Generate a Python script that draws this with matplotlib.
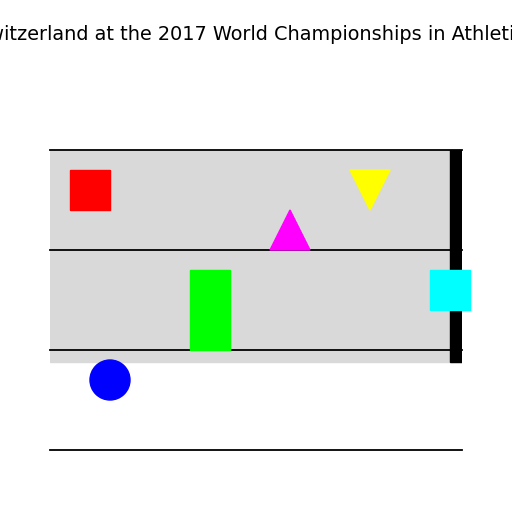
import matplotlib
matplotlib.use('Agg')
import matplotlib.pyplot as plt
from matplotlib.patches import Rectangle, Circle, Polygon

title = "Switzerland at the 2017 World Championships in Athletics"

# grid lines (y values) and shaded band
grid_y = [0, 5, 10, 15]
band = (0, 4.4, 20.6, 10.6)       # x, y, width, height
bar = (20, 4.4, 0.6, 10.6)

# shapes: x, y, w, h, colour
rects = [(1, 12, 2, 2, '#ff0000'), (7, 5, 2, 4, '#00ff00'), (19, 7, 2, 2, '#00ffff')]
tri_up = (11, 10, 2, 2, '#ff00ff')
tri_down = (15, 12, 2, 2, '#ffff00')
circle = (3, 3.5, 1, '#0000ff')

fig = plt.figure(figsize=(5.12, 5.12), dpi=100)
fig.text(0.5, 1 - 34 / 512, title, ha='center', va='center', fontsize=13.9)
ax = fig.add_axes([50 / 512, 62 / 512, 412 / 512, 300 / 512])
ax.set_xlim(0, 20.6)
ax.set_ylim(0, 15)
ax.axis('off')

ax.add_patch(Rectangle(band[:2], band[2], band[3], color='#d9d9d9', zorder=0))
ax.add_patch(Rectangle(bar[:2], bar[2], bar[3], color='black', zorder=3))
for y in grid_y:
    ax.plot([0, 20.6], [y, y], color='black', lw=1.3, zorder=1, clip_on=False)

for x, y, w, h, c in rects:
    ax.add_patch(Rectangle((x, y), w, h, color=c, zorder=4, clip_on=False))
x, y, w, h, c = tri_up
ax.add_patch(Polygon([(x, y), (x + w, y), (x + w / 2, y + h)], color=c, zorder=4))
x, y, w, h, c = tri_down
ax.add_patch(Polygon([(x, y + h), (x + w, y + h), (x + w / 2, y)], color=c, zorder=4))
x, y, r, c = circle
ax.add_patch(Circle((x, y), r, color=c, zorder=4))

fig.savefig('out.png', dpi=100)
